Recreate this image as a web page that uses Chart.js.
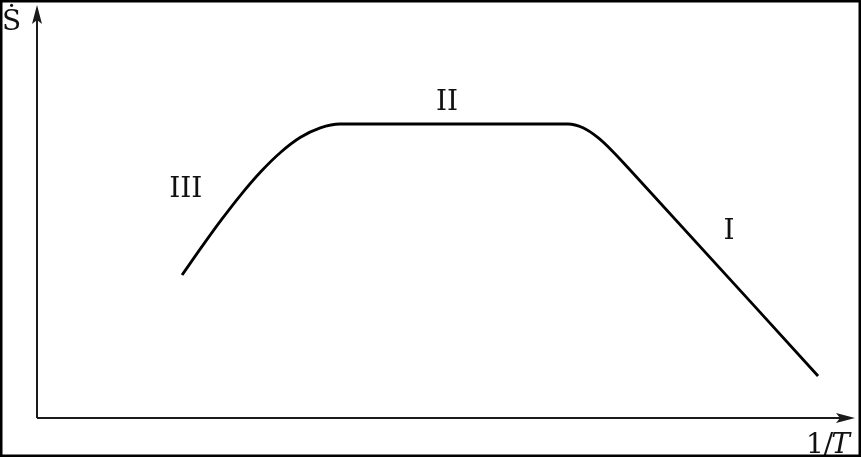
<!DOCTYPE html>
<html>
<head>
<meta charset="utf-8">
<script src="https://cdn.jsdelivr.net/npm/chart.js@4"></script>
<style>
  html, body { margin: 0; padding: 0; background: #fff; }
  canvas { display: block; }
</style>
</head>
<body>
<canvas id="chart" width="861" height="457"></canvas>
<script>
"use strict";

// curve (arbitrary units, 0..100 on both axes)
const curveX = [18.13, 20.59, 23.06, 25.53, 28.0, 30.47, 32.94, 35.41, 37.88,
                66.38, 68.25, 70.13, 72.0, 73.88, 97.63];
const curveY = [35.75, 42.78, 49.58, 55.93, 61.63, 66.45, 70.18, 72.55, 73.5,
                73.5, 72.55, 70.08, 66.58, 62.55, 10.5];

// region labels
const regionText = ["III", "II", "I"];
const regionX = [18.6, 51.25, 86.5];
const regionY = [57.75, 79.5, 47.25];

const yTitle = "Ṡ";
const xTitle = ["1/", "T"];

const serif = '"DejaVu Serif", "Liberation Serif", serif';

const drawing = {
  id: "drawing",
  beforeDraw(chart) {
    const ctx = chart.ctx;
    ctx.save();
    ctx.fillStyle = "#fff";
    ctx.fillRect(0, 0, chart.width, chart.height);
    ctx.restore();
  },
  afterDraw(chart) {
    const ctx = chart.ctx;
    const x = chart.scales.x, y = chart.scales.y;
    const x0 = x.getPixelForValue(0), y0 = y.getPixelForValue(0);
    const yTop = 5, xEnd = 855;

    ctx.save();
    ctx.strokeStyle = "#1a1a1a";
    ctx.fillStyle = "#1a1a1a";
    ctx.lineWidth = 2;

    // axes
    ctx.beginPath();
    ctx.moveTo(x0, y0);
    ctx.lineTo(x0, yTop + 12);
    ctx.moveTo(x0, y0);
    ctx.lineTo(xEnd - 12, y0);
    ctx.stroke();

    // arrowheads
    ctx.beginPath();
    ctx.moveTo(x0, yTop);
    ctx.lineTo(x0 - 5, yTop + 19);
    ctx.lineTo(x0, yTop + 15);
    ctx.lineTo(x0 + 5, yTop + 19);
    ctx.closePath();
    ctx.fill();
    ctx.beginPath();
    ctx.moveTo(xEnd, y0);
    ctx.lineTo(xEnd - 19, y0 - 5);
    ctx.lineTo(xEnd - 15, y0);
    ctx.lineTo(xEnd - 19, y0 + 5);
    ctx.closePath();
    ctx.fill();

    // region labels
    ctx.fillStyle = "#111";
    ctx.font = "28px " + serif;
    ctx.textAlign = "center";
    ctx.textBaseline = "alphabetic";
    regionText.forEach((t, i) => {
      ctx.fillText(t, x.getPixelForValue(regionX[i]), y.getPixelForValue(regionY[i]) + 10);
    });

    // axis titles
    ctx.font = "28px " + serif;
    ctx.textAlign = "left";
    ctx.fillText(yTitle, 2, 30);
    const w1 = ctx.measureText(xTitle[0]).width;
    ctx.fillText(xTitle[0], 806, 453);
    ctx.font = "italic 28px " + serif;
    ctx.fillText(xTitle[1], 806 + w1 - 2, 453);

    // frame
    ctx.strokeStyle = "#000";
    ctx.lineWidth = 5;
    ctx.strokeRect(0, 0, chart.width, chart.height);
    ctx.restore();
  }
};

new Chart(document.getElementById("chart"), {
  type: "scatter",
  data: {
    datasets: [{
      data: curveX.map((v, i) => ({ x: v, y: curveY[i] })),
      showLine: true,
      borderColor: "#000",
      borderWidth: 2.8,
      pointRadius: 0,
      cubicInterpolationMode: "monotone",
      fill: false
    }]
  },
  options: {
    responsive: false,
    animation: false,
    devicePixelRatio: 1,
    layout: { padding: { left: 37, right: 24, top: 18, bottom: 39 } },
    plugins: { legend: { display: false }, tooltip: { enabled: false } },
    scales: {
      x: { type: "linear", min: 0, max: 100, display: false },
      y: { type: "linear", min: 0, max: 100, display: false }
    }
  },
  plugins: [drawing]
});
</script>
</body>
</html>
